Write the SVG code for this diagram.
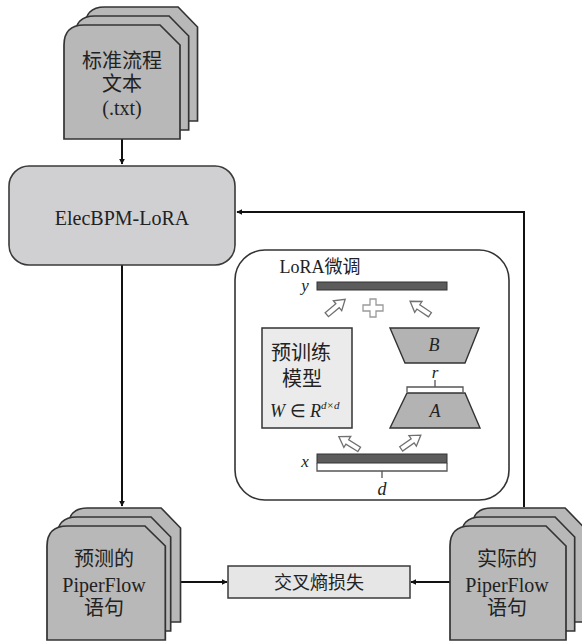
<svg xmlns="http://www.w3.org/2000/svg" width="582" height="642" viewBox="0 0 582 642">
<defs>
<style>
.card{fill:#b8b8b8;stroke:#333;stroke-width:1.7}
.t{font-family:"Liberation Serif","Noto Sans CJK SC",serif;fill:#222;text-anchor:middle}
.it{font-family:"Liberation Serif",serif;font-style:italic;fill:#222;text-anchor:middle}
.ln{fill:none;stroke:#111;stroke-width:2}
.bar{fill:#5c5c5c;stroke:#333;stroke-width:1}
.trap{fill:#b3b3b3;stroke:#333;stroke-width:1.4}
.ha{fill:#fff;stroke:#707070;stroke-width:1.3}
.br{fill:none;stroke:#555;stroke-width:1.3}
</style>
<marker id="ah" viewBox="0 0 10 10" refX="9" refY="5" markerWidth="6" markerHeight="6" orient="auto" markerUnits="userSpaceOnUse">
<path d="M0,0 L10,5 L0,10 z" fill="#111"/>
</marker>
<path id="card" d="M0,114 L0,20 Q0,0 20,0 L96,0 L116,20 L116,114 Z"/>
<polygon id="harrow" points="-12,-2.6 2,-2.6 2,-6.5 12,0 2,6.5 2,2.6 -12,2.6"/>
</defs>

<g id="connectors">
<line class="ln" x1="122" y1="139" x2="122" y2="164" marker-end="url(#ah)"/>
<line class="ln" x1="122" y1="265" x2="122" y2="506" marker-end="url(#ah)"/>
<polyline class="ln" points="524,507 524,212 237,212" marker-end="url(#ah)"/>
<line class="ln" x1="164" y1="582" x2="227" y2="582" marker-end="url(#ah)"/>
<line class="ln" x1="450" y1="582" x2="411" y2="582" marker-end="url(#ah)"/>
</g>

<g id="doc-input">
<use href="#card" class="card" transform="translate(85,7) scale(0.97,1)"/>
<use href="#card" class="card" transform="translate(75,16) scale(0.98,1)"/>
<use href="#card" class="card" transform="translate(64,25) scale(1,1)"/>
<text class="t" x="122" y="68" font-size="20">标准流程</text>
<text class="t" x="122" y="91" font-size="20">文本</text>
<text class="t" x="122" y="115" font-size="20">(.txt)</text>
</g>

<g id="model">
<rect x="9" y="166" width="226" height="99" rx="20" fill="#d0d0d2" stroke="#3a3a3a" stroke-width="1.6"/>
<text class="t" x="122" y="225" font-size="20">ElecBPM-LoRA</text>
</g>

<g id="lora">
<rect x="235" y="250" width="274" height="250" rx="30" fill="#fff" stroke="#333" stroke-width="1.6"/>
<text class="t" x="320" y="273" font-size="18">LoRA微调</text>
<text class="it" x="305" y="291" font-size="17">y</text>
<rect class="bar" x="317" y="282" width="130" height="8"/>
<use href="#harrow" class="ha" transform="translate(336,307) rotate(-40)"/>
<use href="#harrow" class="ha" transform="translate(420,308) rotate(-146)"/>
<polygon points="370,299 376,299 376,305 383,305 383,311 376,311 376,317 370,317 370,311 363,311 363,305 370,305" fill="#fff" stroke="#9a9a9a" stroke-width="1.3"/>
<rect x="262" y="328" width="90" height="100" fill="#ebebeb" stroke="#333" stroke-width="1.5"/>
<text class="t" x="301" y="360" font-size="20">预训练</text>
<text class="t" x="302" y="386" font-size="20">模型</text>
<text x="270" y="417" font-family="Liberation Serif,serif" font-size="18" fill="#222"><tspan font-style="italic">W</tspan> ∈ <tspan font-style="italic">R</tspan><tspan font-style="italic" font-size="11" dy="-8">d×d</tspan></text>
<polygon class="trap" points="390,328 479,328 465,363 405,363"/>
<text class="it" x="434" y="351" font-size="18">B</text>
<text class="it" x="435" y="378" font-size="17">r</text>
<path class="br" d="M407,392 L407,387 L463,387 L463,392 M435,387 L435,380"/>
<polygon class="trap" points="407,393 465,393 480,428 390,428"/>
<text class="it" x="435" y="417" font-size="18">A</text>
<use href="#harrow" class="ha" transform="translate(349,443) rotate(-148)"/>
<use href="#harrow" class="ha" transform="translate(411,442) rotate(-35)"/>
<text class="it" x="305" y="467" font-size="17">x</text>
<rect class="bar" x="317" y="454" width="130" height="9"/>
<path class="br" d="M317,463 L317,471 L447,471 L447,463 M382,471 L382,478"/>
<text class="it" x="382" y="495" font-size="18">d</text>
</g>

<g id="pred">
<use href="#card" class="card" transform="translate(68,508) scale(0.97,1)"/>
<use href="#card" class="card" transform="translate(57,517) scale(0.98,1)"/>
<use href="#card" class="card" transform="translate(47,526) scale(1.02,1)"/>
<text class="t" x="104" y="566" font-size="20">预测的</text>
<text class="t" x="104" y="592" font-size="20">PiperFlow</text>
<text class="t" x="104" y="615" font-size="20">语句</text>
</g>

<g id="loss">
<rect x="228" y="566" width="182" height="32" fill="#e6e6e6" stroke="#3a3a3a" stroke-width="1.5"/>
<text class="t" x="319" y="589" font-size="18">交叉熵损失</text>
</g>

<g id="actual">
<use href="#card" class="card" transform="translate(472,508) scale(0.97,1)"/>
<use href="#card" class="card" transform="translate(461,517) scale(0.98,1)"/>
<use href="#card" class="card" transform="translate(450,526) scale(1.0,1)"/>
<text class="t" x="507" y="566" font-size="20">实际的</text>
<text class="t" x="507" y="592" font-size="20">PiperFlow</text>
<text class="t" x="507" y="615" font-size="20">语句</text>
</g>
</svg>
